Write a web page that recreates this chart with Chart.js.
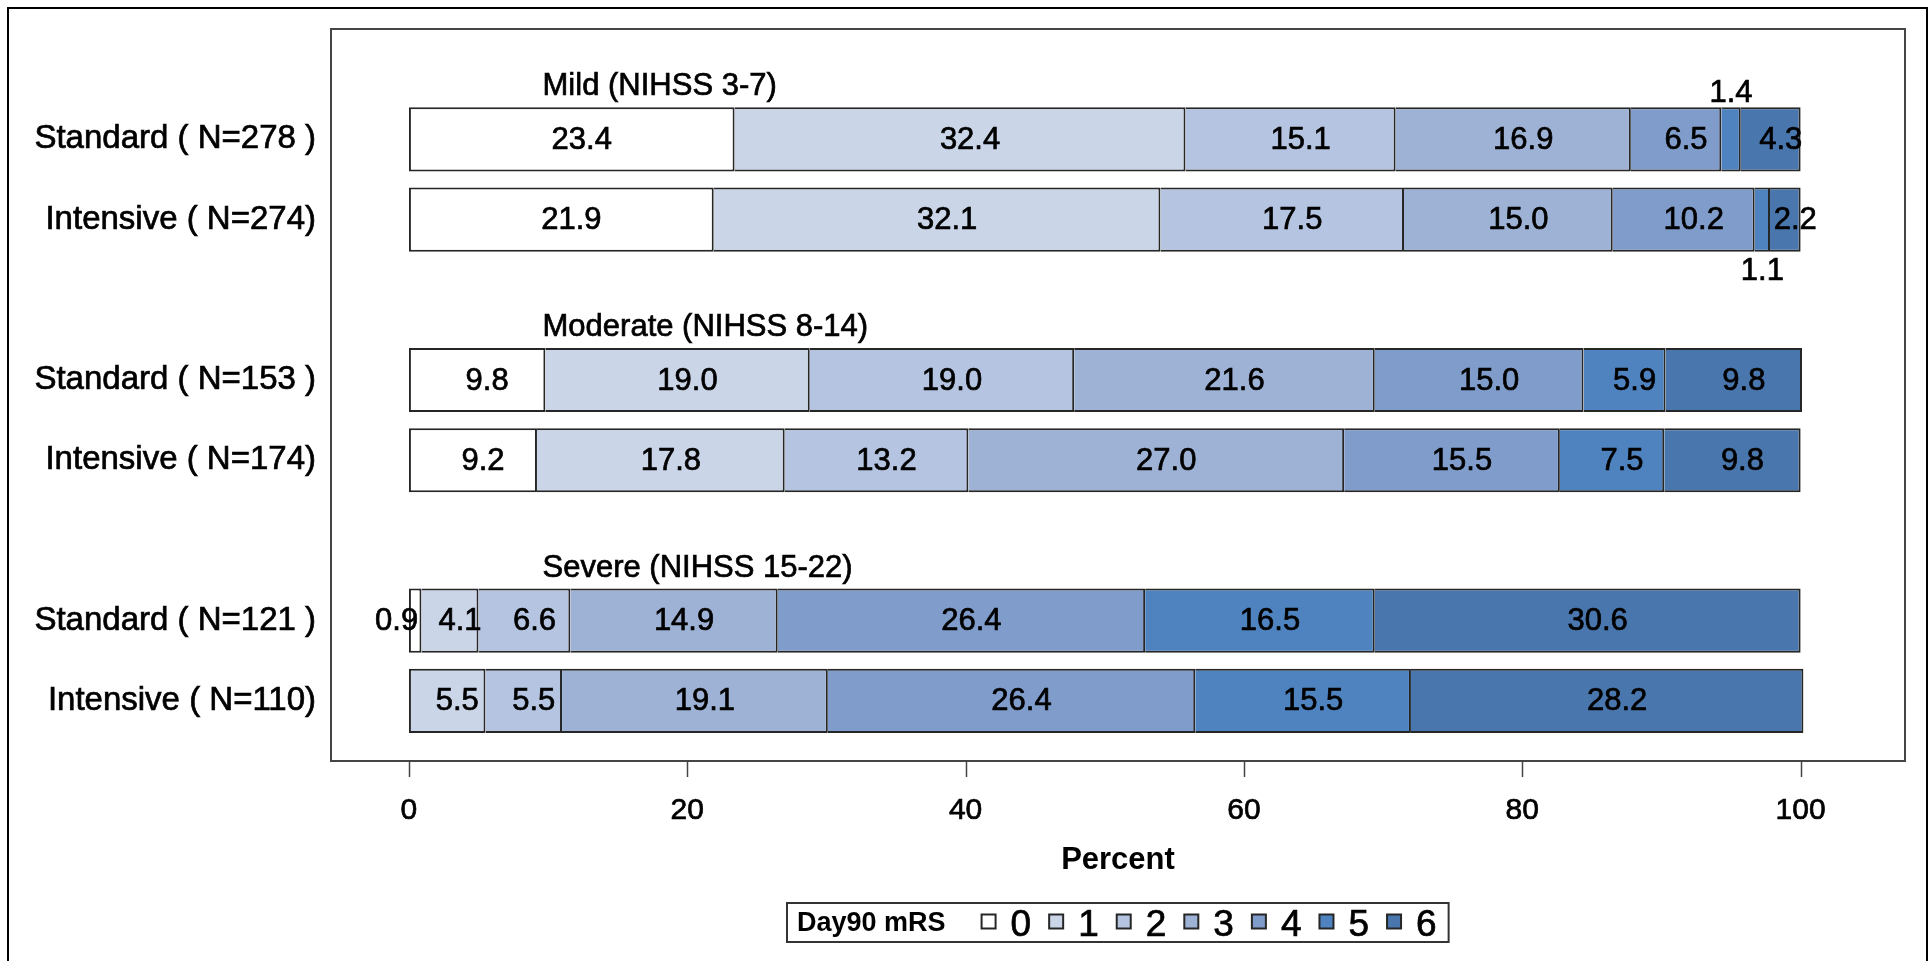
<!DOCTYPE html>
<html>
<head>
<meta charset="utf-8">
<title>Day90 mRS by NIHSS group</title>
<script src="https://cdn.jsdelivr.net/npm/chart.js@4.4.1/dist/chart.umd.min.js"></script>
<style>
  html, body { margin: 0; padding: 0; background: #fff; overflow: hidden; }
  #wrap { position: relative; width: 1929px; height: 961px; }
</style>
</head>
<body>
<div id="wrap"><canvas id="mrsChart"></canvas></div>
<script>
// Rows of the plot. Blank rows leave room for the severity headers.
const rowLabels = ['', 'Standard ( N=278 )', 'Intensive ( N=274)', '', 'Standard ( N=153 )', 'Intensive ( N=174)', '', 'Standard ( N=121 )', 'Intensive ( N=110)'];
const groupTitles = ['Mild (NIHSS 3-7)', 'Moderate (NIHSS 8-14)', 'Severe (NIHSS 15-22)'];
const mrsLevels = ['0', '1', '2', '3', '4', '5', '6'];

// percent of patients at each Day90 mRS level (0..6)
const mildStandard = [23.4, 32.4, 15.1, 16.9, 6.5, 1.4, 4.3];
const mildIntensive = [21.9, 32.1, 17.5, 15.0, 10.2, 1.1, 2.2];
const modStandard = [9.8, 19.0, 19.0, 21.6, 15.0, 5.9, 9.8];
const modIntensive = [9.2, 17.8, 13.2, 27.0, 15.5, 7.5, 9.8];
const sevStandard = [0.9, 4.1, 6.6, 14.9, 26.4, 16.5, 30.6];
const sevIntensive = [0.0, 5.5, 5.5, 19.1, 26.4, 15.5, 28.2];

const xTicks = [0, 20, 40, 60, 80, 100];
const xMin = -5.6;
const xMax = 107.5;

const mrsColors = ['#ffffff', '#cbd5e8', '#b5c4e0', '#9eb2d5', '#7f9cca', '#4f83c0', '#4976ad'];
const edgeColor = '#262626';
const FONT = '"Liberation Sans", Arial, Helvetica, sans-serif';
const TEXT_STROKE = 0.7;   // the SAS text renders a bit heavier than plain Arial

const rowData = [null, mildStandard, mildIntensive, null, modStandard, modIntensive, null, sevStandard, sevIntensive];

// frame sits a little outside the band of bar rows
const frameTopPad = 10;
const frameBottomPad = 20;
const titleX = 9.6;        // left edge of the severity headers, in percent units
const labelShift = 10;     // SAS nudges the in-bar labels slightly right

function firstFilled(row) {
    const vals = rowData[row];
    return vals ? vals.findIndex(v => v > 0) : -1;
}

function heavyText(ctx, text, x, y) {
    ctx.fillText(text, x, y);
    ctx.strokeText(text, x, y);
}

const datasets = mrsLevels.map((lvl, k) => ({
    label: lvl,
    data: rowData.map(r => (r ? r[k] : null)),
    backgroundColor: mrsColors[k],
    borderColor: edgeColor,
    borderSkipped: false,
    inflateAmount: 0,
    borderWidth: function(ctx) {
        if (ctx.type !== 'data') return 2;
        return { top: 2, bottom: 2, right: 2, left: firstFilled(ctx.dataIndex) === ctx.datasetIndex ? 2 : 0 };
    }
}));

// value labels in the segments; tiny segments get pushed outside
const segmentLabels = {
    id: 'segmentLabels',
    afterDatasetsDraw(chart) {
        const ctx = chart.ctx;
        ctx.save();
        ctx.font = '31px ' + FONT;
        ctx.fillStyle = '#000';
        ctx.strokeStyle = '#000';
        ctx.lineWidth = TEXT_STROKE;
        chart.data.datasets.forEach((ds, k) => {
            const meta = chart.getDatasetMeta(k);
            meta.data.forEach((bar, row) => {
                const v = ds.data[row];
                if (v == null || v <= 0) return;
                const p = bar.getProps(['x', 'base', 'y', 'height'], true);
                const mid = (p.x + p.base) / 2;
                const w = Math.abs(p.x - p.base);
                const text = v.toFixed(1);
                if (w >= 25) {
                    ctx.textAlign = 'center';
                    ctx.textBaseline = 'middle';
                    heavyText(ctx, text, mid + labelShift, p.y + 1);
                } else if (firstFilled(row) === k) {
                    ctx.textAlign = 'right';
                    ctx.textBaseline = 'middle';
                    heavyText(ctx, text, mid + 3, p.y + 1);
                } else if (rowLabels[row - 1] === '') {
                    ctx.textAlign = 'center';
                    ctx.textBaseline = 'alphabetic';
                    heavyText(ctx, text, mid, p.y - p.height / 2 - 5);
                } else {
                    ctx.textAlign = 'center';
                    ctx.textBaseline = 'top';
                    heavyText(ctx, text, mid, p.y + p.height / 2 + 4);
                }
            });
        });

        // severity headers above each pair of bars
        const xs = chart.scales.x;
        const bars = chart.getDatasetMeta(0).data;
        ctx.textAlign = 'left';
        ctx.textBaseline = 'alphabetic';
        let g = 0;
        rowLabels.forEach((lab, row) => {
            if (lab !== '' || !bars[row + 1]) return;
            const b = bars[row + 1];
            heavyText(ctx, groupTitles[g++], xs.getPixelForValue(titleX), b.y - b.height / 2 - 12);
        });
        ctx.restore();
    }
};

// frames, x tick marks and the inline legend
const decorations = {
    id: 'decorations',
    afterDraw(chart) {
        const ctx = chart.ctx;
        const ca = chart.chartArea;
        const xs = chart.scales.x;
        const fTop = ca.top + frameTopPad;
        const fBottom = ca.bottom + frameBottomPad;
        ctx.save();

        ctx.strokeStyle = '#000';
        ctx.lineWidth = 2;
        ctx.strokeRect(8, 8, chart.width - 10, chart.height + 10);

        ctx.strokeStyle = '#454545';
        ctx.strokeRect(ca.left, fTop, ca.right - ca.left, fBottom - fTop);

        ctx.lineWidth = 1.5;
        xs.ticks.forEach(t => {
            const px = Math.round(xs.getPixelForValue(t.value)) + 0.5;
            ctx.beginPath();
            ctx.moveTo(px, fBottom);
            ctx.lineTo(px, fBottom + 16);
            ctx.stroke();
        });

        // legend: "Day90 mRS  [] 0  [] 1 ..."
        const titleFont = 'bold 27px ' + FONT;
        const itemFont = '37px ' + FONT;
        const sw = 14;
        ctx.font = titleFont;
        const titleW = ctx.measureText('Day90 mRS').width;
        ctx.font = itemFont;
        const items = chart.data.datasets.map(ds => ({ text: ds.label, color: ds.backgroundColor, w: ctx.measureText(ds.label).width }));
        let total = 10 + titleW + 36;
        items.forEach((it, i) => { total += sw + 15 + it.w + (i < items.length - 1 ? 18 : 12); });
        const boxH = 39;
        const boxTop = chart.height - 58;
        const boxLeft = Math.round((ca.left + ca.right) / 2 - total / 2);
        const cy = boxTop + boxH / 2 + 1;

        ctx.fillStyle = '#fff';
        ctx.fillRect(boxLeft, boxTop, total, boxH);
        ctx.strokeStyle = '#333';
        ctx.lineWidth = 2;
        ctx.strokeRect(boxLeft, boxTop, total, boxH);

        ctx.fillStyle = '#000';
        ctx.textAlign = 'left';
        ctx.textBaseline = 'middle';
        ctx.font = titleFont;
        let cx = boxLeft + 10;
        ctx.fillText('Day90 mRS', cx, cy);
        cx += titleW + 36;
        ctx.font = itemFont;
        items.forEach(it => {
            ctx.fillStyle = it.color;
            ctx.fillRect(cx, cy - sw / 2 - 2, sw, sw);
            ctx.strokeStyle = edgeColor;
            ctx.lineWidth = 2;
            ctx.strokeRect(cx, cy - sw / 2 - 2, sw, sw);
            cx += sw + 15;
            ctx.fillStyle = '#000';
            ctx.strokeStyle = '#000';
            ctx.lineWidth = TEXT_STROKE;
            heavyText(ctx, it.text, cx, cy + 2);
            cx += it.w + 18;
        });
        ctx.restore();
    }
};

Chart.defaults.font.family = FONT;
Chart.defaults.color = '#000';

new Chart(document.getElementById('mrsChart'), {
    type: 'bar',
    data: { labels: rowLabels, datasets: datasets },
    options: {
        indexAxis: 'y',
        responsive: true,
        maintainAspectRatio: false,
        animation: false,
        categoryPercentage: 0.8,
        barPercentage: 1.0,
        layout: { padding: { top: 19, right: 24, bottom: 0, left: 0 } },
        plugins: {
            legend: { display: false },
            tooltip: { enabled: false }
        },
        scales: {
            x: {
                stacked: true,
                min: xMin,
                max: xMax,
                grid: { display: false, drawTicks: false },
                border: { display: false },
                afterBuildTicks: scale => { scale.ticks = xTicks.map(v => ({ value: v })); },
                afterFit: scale => {
                    scale.height = 220;
                    scale.paddingLeft = 0;
                    scale.paddingRight = 0;
                },
                ticks: {
                    autoSkip: false,
                    maxRotation: 0,
                    padding: 52,
                    font: { size: 30 },
                    color: '#000',
                    textStrokeColor: '#000',
                    textStrokeWidth: TEXT_STROKE
                },
                title: {
                    display: true,
                    text: 'Percent',
                    color: '#000',
                    font: { size: 31, weight: 'bold' },
                    padding: { top: 0, bottom: 82 }
                }
            },
            y: {
                stacked: true,
                grid: { display: false, drawTicks: false },
                border: { display: false },
                afterFit: scale => {
                    scale.width = 331;
                    scale.paddingTop = 0;
                    scale.paddingBottom = 0;
                },
                ticks: {
                    autoSkip: false,
                    padding: 15,
                    font: { size: 33 },
                    color: '#000',
                    textStrokeColor: '#000',
                    textStrokeWidth: TEXT_STROKE
                }
            }
        }
    },
    plugins: [segmentLabels, decorations]
});
</script>
</body>
</html>
